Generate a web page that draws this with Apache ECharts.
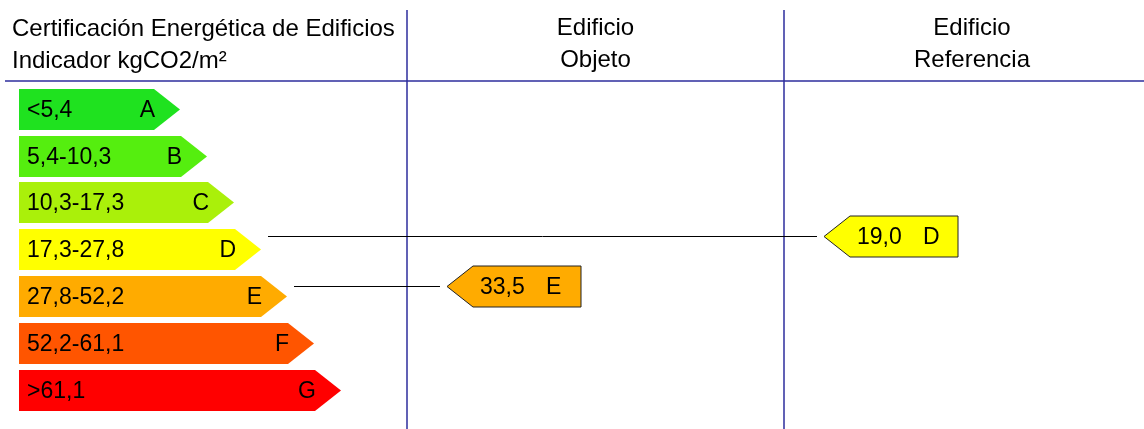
<!DOCTYPE html>
<html>
<head>
<meta charset="utf-8">
<script src="https://cdn.jsdelivr.net/npm/echarts@6/dist/echarts.min.js"></script>
<style>
  html, body { margin: 0; padding: 0; background: #fff; }
  #chart { width: 1144px; height: 429px; }
</style>
</head>
<body>
<div id="chart"></div>
<script>
// energy classes and their ranges (kgCO2/m2)
const classes = ['A', 'B', 'C', 'D', 'E', 'F', 'G'];
const rangeLabels = ['<5,4', '5,4-10,3', '10,3-17,3', '17,3-27,8', '27,8-52,2', '52,2-61,1', '>61,1'];
const classBounds = [0, 5.4, 10.3, 17.3, 27.8, 52.2, 61.1, 100];
const classColors = ['#1fe21f', '#55ee0f', '#aaf00a', '#ffff00', '#ffab00', '#ff5500', '#ff0000'];

const headerLines = ['Certificación Energética de Edificios', 'Indicador kgCO2/m²'];
const buildings = ['Edificio\nObjeto', 'Edificio\nReferencia'];
const buildingValues = [33.5, 19.0];

// layout
const W = 1144, H = 429;
const colEdges = [407, 784, 1160];
const ruleY = 81;
const FONT = '"Liberation Sans", Arial, sans-serif';
const LABEL = '23px ' + FONT;
const lineColor = '#2c2c9c';

function classOf(v) {
  for (let k = 0; k < classes.length; k++) {
    if (v < classBounds[k + 1]) return k;
  }
  return classes.length - 1;
}
const fmt = v => v.toFixed(1).replace('.', ',');

const chart = echarts.init(document.getElementById('chart'), null, { renderer: 'canvas' });

function barGeom(api, k) {
  const c = api.coord([0, k]);
  const band = api.size([0, 1])[1];
  const h = Math.round(band * 0.877);
  const top = Math.round(c[1] - h / 2);
  const left = c[0] + 19;
  const tip = Math.round(left + 161 + 26.85 * k);
  return { c, h, top, left, tip, neck: tip - 26 };
}

chart.setOption({
  animation: false,
  grid: { left: 0, right: 0, top: 86, bottom: 15.6 },
  xAxis: { type: 'value', min: 0, max: W, show: false },
  yAxis: { type: 'category', data: classes, inverse: true, show: false },
  graphic: [
    { type: 'line', z: 5, shape: { x1: 5, y1: ruleY, x2: W, y2: ruleY }, style: { stroke: lineColor, lineWidth: 1.5 } },
    ...colEdges.slice(0, 2).map(x => ({
      type: 'line', z: 5, shape: { x1: x, y1: 10, x2: x, y2: H }, style: { stroke: lineColor, lineWidth: 1.5 }
    })),
    { type: 'text', left: 12, top: 13, style: { text: headerLines.join('\n'), font: '24px ' + FONT, lineHeight: 32, fill: '#000' } },
    ...buildings.map((b, j) => ({
      type: 'text', z: 5,
      style: {
        text: b, x: (colEdges[j] + colEdges[j + 1]) / 2, y: 44,
        align: 'center', verticalAlign: 'middle', font: '24px ' + FONT, lineHeight: 32, fill: '#000'
      }
    }))
  ],
  series: [
    {
      type: 'custom',
      clip: false,
      data: classes.map((c, i) => [0, i]),
      renderItem(params, api) {
        const k = params.dataIndex;
        const g = barGeom(api, k);
        const cy = g.top + g.h / 2;
        return {
          type: 'group',
          children: [
            { type: 'polygon', shape: { points: [[g.left, g.top], [g.neck, g.top], [g.tip, cy], [g.neck, g.top + g.h], [g.left, g.top + g.h]] }, style: { fill: classColors[k] } },
            { type: 'text', style: { text: rangeLabels[k], x: g.left + 8, y: cy + 1, align: 'left', verticalAlign: 'middle', font: LABEL, fill: '#000' } },
            { type: 'text', style: { text: classes[k], x: g.neck + 1, y: cy + 1, align: 'right', verticalAlign: 'middle', font: LABEL, fill: '#000' } }
          ]
        };
      }
    },
    {
      type: 'custom',
      clip: false,
      z: 6,
      encode: { x: 0, y: 2 },
      data: buildingValues.map((v, j) => [j, v, classOf(v)]),
      renderItem(params, api) {
        const j = api.value(0), v = api.value(1), k = api.value(2);
        const g = barGeom(api, k);
        const frac = (v - classBounds[k]) / (classBounds[k + 1] - classBounds[k]);
        const y = Math.round(g.top + frac * g.h) + 0.5;
        const tip = api.coord([colEdges[j], k])[0] + 40;
        const body = tip + 26, right = body + 108;
        const hh = g.h / 2;
        return {
          type: 'group',
          children: [
            { type: 'line', shape: { x1: g.tip + 7, y1: y, x2: tip - 7, y2: y }, style: { stroke: '#000', lineWidth: 1 } },
            { type: 'polygon', shape: { points: [[tip, y], [body, y - hh], [right, y - hh], [right, y + hh], [body, y + hh]] }, style: { fill: classColors[k], stroke: '#222', lineWidth: 1 } },
            { type: 'text', style: { text: fmt(v), x: body + 7, y: y + 1, align: 'left', verticalAlign: 'middle', font: LABEL, fill: '#000' } },
            { type: 'text', style: { text: classes[k], x: body + 73, y: y + 1, align: 'left', verticalAlign: 'middle', font: LABEL, fill: '#000' } }
          ]
        };
      }
    }
  ]
});
</script>
</body>
</html>
